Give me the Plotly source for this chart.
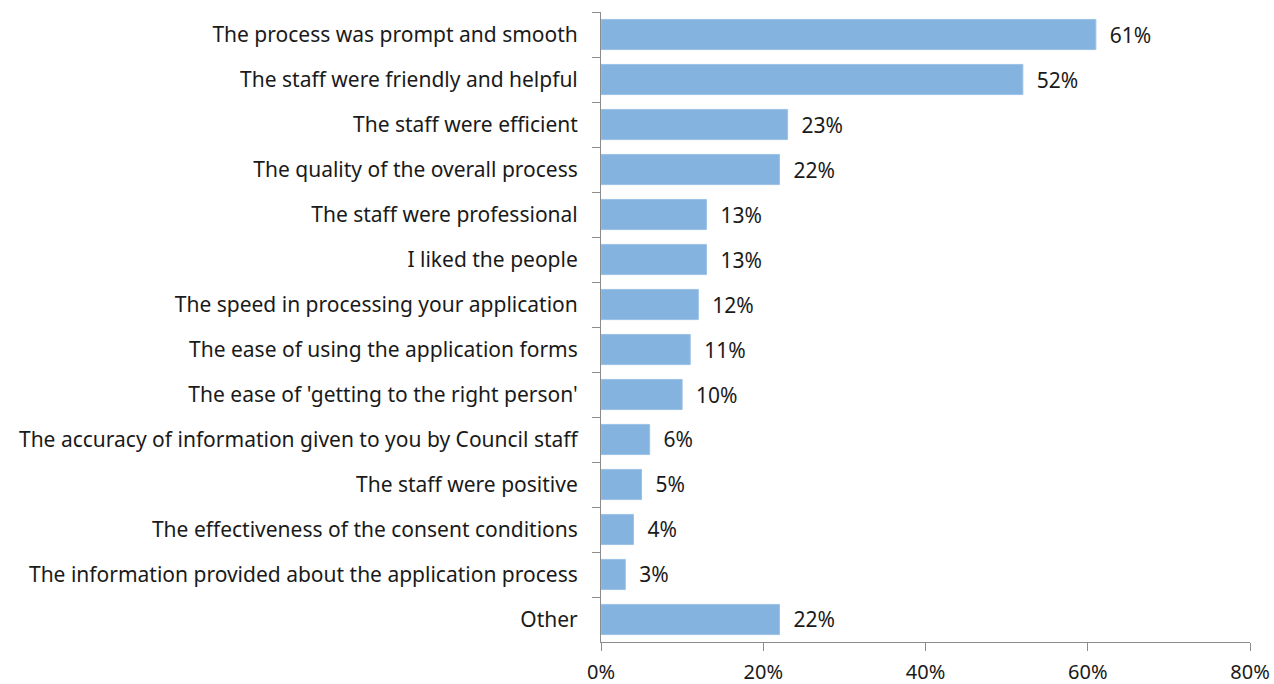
import plotly.graph_objects as go

# Reasons respondents gave for being satisfied, share of responses (%)
reasons = [
    "The process was prompt and smooth",
    "The staff were friendly and helpful",
    "The staff were efficient",
    "The quality of the overall process",
    "The staff were professional",
    "I liked the people",
    "The speed in processing your application",
    "The ease of using the application forms",
    "The ease of 'getting to the right person'",
    "The accuracy of information given to you by Council staff",
    "The staff were positive",
    "The effectiveness of the consent conditions",
    "The information provided about the application process",
    "Other",
]
shares = [61, 52, 23, 22, 13, 13, 12, 11, 10, 6, 5, 4, 3, 22]

x_ticks = [0, 20, 40, 60, 80]
x_tick_labels = ["0%", "20%", "40%", "60%", "80%"]

FONT = "'Noto Sans', 'Open Sans', sans-serif"
TEXT_COLOR = "#1a1a1a"
AXIS_COLOR = "#8c8c8c"

fig = go.Figure(
    go.Bar(
        x=shares,
        y=reasons,
        orientation="h",
        marker=dict(color="#85b3e0", line=dict(color="#9cc2e6", width=1)),
        text=[f"\u00a0\u00a0{v}%" for v in shares],
        textposition="outside",
        textfont=dict(family=FONT, size=21, color=TEXT_COLOR),
        cliponaxis=False,
        hoverinfo="skip",
    )
)

fig.update_layout(
    width=1274,
    height=684,
    margin=dict(l=601, r=24, t=12, b=42, autoexpand=False),
    paper_bgcolor="white",
    plot_bgcolor="white",
    bargap=0.33,
    showlegend=False,
    font=dict(family=FONT, size=21, color=TEXT_COLOR),
)

fig.update_xaxes(
    range=[0, 80],
    tickvals=x_ticks,
    ticktext=x_tick_labels,
    automargin=False,
    showgrid=False,
    zeroline=False,
    showline=True,
    linecolor=AXIS_COLOR,
    linewidth=1,
    ticks="outside",
    ticklen=8,
    tickcolor=AXIS_COLOR,
    ticklabelstandoff=4,
    tickfont=dict(family=FONT, size=20, color=TEXT_COLOR),
)

fig.update_yaxes(
    type="category",
    categoryorder="array",
    categoryarray=reasons,
    autorange="reversed",
    automargin=False,
    showgrid=False,
    zeroline=False,
    showline=True,
    linecolor=AXIS_COLOR,
    linewidth=1,
    ticks="outside",
    tickson="boundaries",
    ticklen=8,
    tickcolor=AXIS_COLOR,
    ticklabelstandoff=18,
    tickfont=dict(family=FONT, size=21, color=TEXT_COLOR),
)

fig.write_html("out.html")
